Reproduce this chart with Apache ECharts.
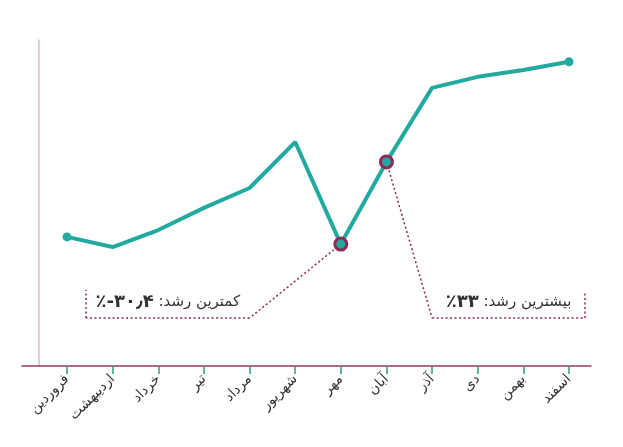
<!DOCTYPE html>
<html>
<head>
<meta charset="utf-8">
<script src="https://cdn.jsdelivr.net/npm/echarts@6/dist/echarts.min.js"></script>
<style>html,body{margin:0;padding:0;background:#fff;}#c{width:623px;height:447px;}</style>
</head>
<body>
<div id="c"></div>
<script>
// Months (Persian calendar)
const months = ['فروردین','اردیبهشت','خرداد','تیر','مرداد','شهریور','مهر','آبان','آذر','دی','بهمن','اسفند'];
// Index values (arbitrary 0–100 scale)
const values = [39.6, 36.5, 41.7, 48.5, 54.6, 68.7, 37.4, 62.6, 85.3, 88.7, 90.8, 93.3];
// Highlighted months
const minIndex = 6;
const maxIndex = 7;
// Annotation texts
const minLabel = ['٪-۳۰٫۴', ' :کمترین رشد'];
const maxLabel = ['٪۳۳', ' :بیشترین رشد'];
// Annotation callout path [monthIndex, value]
const minPath = [[6, 37.4], [4, 14.7], [0.42, 14.7], [0.42, 23.3]];
const maxPath = [[7, 62.6], [8, 14.7], [11.35, 14.7], [11.35, 22.7]];

const TEAL = '#22aaa0';
const MAROON = '#8e2a55';
const FONT = 'DejaVu Sans';

const seriesData = values.map((v, i) => {
  if (i === minIndex || i === maxIndex) {
    return { value: v, symbolSize: 12, itemStyle: { color: TEAL, borderColor: MAROON, borderWidth: 3 } };
  }
  if (i === 0 || i === values.length - 1) {
    return { value: v, symbolSize: 9, itemStyle: { color: TEAL, borderWidth: 0 } };
  }
  return { value: v, symbolSize: 0 };
});

function pathToSegments(path, labelText) {
  const segs = [];
  for (let i = 0; i < path.length - 1; i++) {
    const seg = [{ coord: path[i] }, { coord: path[i + 1] }];
    if (i === 1) {
      seg[0].label = {
        show: true,
        position: 'insideMiddleTop',
        distance: 7,
        formatter: '{b|' + labelText[0] + '}{n|' + labelText[1] + '}',
        rich: {
          b: { fontFamily: FONT, fontWeight: 'bold', fontSize: 18, color: '#333' },
          n: { fontFamily: FONT, fontSize: 15, color: '#333' }
        }
      };
    } else {
      seg[0].label = { show: false };
    }
    segs.push(seg);
  }
  return segs;
}

const chart = echarts.init(document.getElementById('c'), null, { renderer: 'canvas' });
chart.setOption({
  animation: false,
  backgroundColor: '#fff',
  grid: [
    { left: 44.2, right: 31.2, top: 40, bottom: 81 },
    { left: 22, right: 32, top: 40, bottom: 81 }
  ],
  xAxis: [
    {
      type: 'category',
      gridIndex: 0,
      data: months,
      boundaryGap: true,
      axisLine: { show: false },
      axisTick: { show: true, alignWithLabel: true, length: 8, lineStyle: { color: '#2a9a82', width: 1.5 } },
      axisLabel: { rotate: 45, margin: 11, color: '#333', fontSize: 14, fontFamily: FONT, interval: 0 },
      splitLine: { show: false },
      z: 6
    },
    {
      type: 'category',
      gridIndex: 1,
      data: [''],
      axisLine: { show: true, lineStyle: { color: '#94405f', width: 1.5 } },
      axisTick: { show: false },
      axisLabel: { show: false },
      splitLine: { show: false },
      z: 2
    },
    {
      // helper axis (hidden) to position the callouts between months
      type: 'value',
      gridIndex: 0,
      min: -0.5,
      max: 11.5,
      show: false,
      axisLine: { onZero: false }
    }
  ],
  yAxis: [
    {
      type: 'value',
      gridIndex: 0,
      min: 0,
      max: 100,
      offset: 5,
      axisLine: { show: true, onZero: false, lineStyle: { color: '#ddb9c8', width: 1.5 } },
      axisTick: { show: false },
      axisLabel: { show: false },
      splitLine: { show: false }
    },
    {
      type: 'value',
      gridIndex: 1,
      min: 0,
      max: 100,
      show: false
    }
  ],
  series: [
    {
      type: 'line',
      xAxisIndex: 0,
      yAxisIndex: 0,
      data: seriesData,
      symbol: 'circle',
      showAllSymbol: true,
      lineStyle: { color: TEAL, width: 4 },
      itemStyle: { color: TEAL },
      z: 5
    },
    {
      type: 'line',
      xAxisIndex: 2,
      yAxisIndex: 0,
      data: values.map((v, i) => [i, v]),
      symbol: 'none',
      lineStyle: { opacity: 0 },
      silent: true,
      z: 1,
      markLine: {
        silent: true,
        symbol: ['none', 'none'],
        lineStyle: { color: MAROON, type: [2, 2.5], width: 1.5 },
        data: pathToSegments(minPath, minLabel).concat(pathToSegments(maxPath, maxLabel))
      }
    }
  ]
});
</script>
</body>
</html>
